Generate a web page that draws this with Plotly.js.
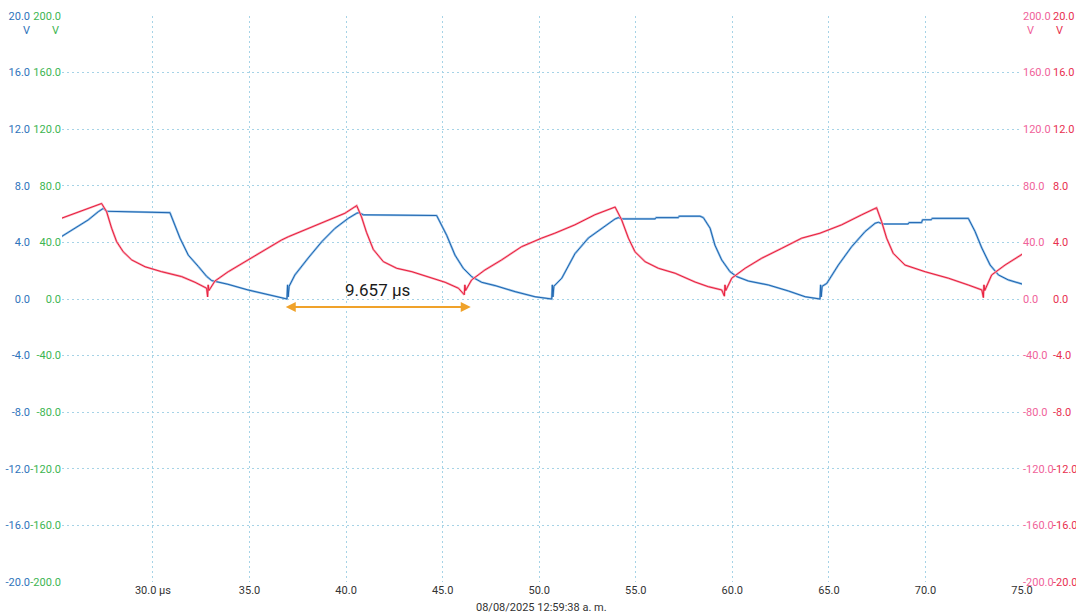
<!DOCTYPE html>
<html>
<head>
<meta charset="utf-8">
<script src="https://cdn.plot.ly/plotly-3.0.1.min.js"></script>
<style>
  html, body { margin: 0; padding: 0; background: #ffffff; }
  #chart { width: 1076px; height: 613px; }
</style>
</head>
<body>
<div id="chart"></div>
<script>
// Time base (µs) and the two captured channels (V)
const timeA = [25.25, 25.96, 26.65, 27.17, 27.43, 27.6, 30.85, 30.88, 31.40, 31.83, 32.35, 32.78, 33.04, 33.88, 34.92, 35.96, 36.84, 36.94, 36.97, 37.0, 37.05,
  37.35, 38.04, 38.74, 39.43, 40.11, 40.55, 40.65, 40.9, 44.65, 44.69, 45.21, 45.64, 46.07, 46.5, 47.02, 47.71, 48.75, 49.78, 50.65, 50.68, 50.71, 50.76,
  51.17, 51.85, 52.54, 53.24, 53.93, 54.1, 54.3, 56.0, 56.05, 57.2, 57.25, 58.33, 58.5, 58.85, 59.1, 59.45, 59.88, 60.23, 60.83, 61.87, 62.9, 63.77, 64.54, 64.57, 64.6, 64.65,
  64.89, 65.49, 66.18, 66.87, 67.39, 67.56, 67.8, 69.1, 69.15, 69.8, 69.85, 70.3, 70.35, 72.22, 72.57, 72.92, 73.35, 73.78, 74.29, 75.05];
const channelA = [4.4, 5.0, 5.59, 6.17, 6.4, 6.2, 6.15, 6.1, 4.3, 3.1, 2.3, 1.6, 1.3, 1.04, 0.64, 0.3, 0.05, 0.0, 1.0, 0.15, 0.9,
  1.7, 2.9, 4.05, 5.0, 5.7, 6.06, 6.1, 5.95, 5.95, 5.9, 4.5, 3.1, 2.17, 1.58, 1.18, 0.95, 0.52, 0.16, 0.0, 1.0, 0.15, 0.9,
  1.47, 3.2, 4.3, 5.0, 5.66, 5.75, 5.66, 5.66, 5.75, 5.75, 5.85, 5.85, 5.75, 5.0, 3.8, 2.76, 1.93, 1.58, 1.27, 0.99, 0.57, 0.16, 0.0, 1.0, 0.15, 0.9,
  1.1, 2.4, 3.7, 4.76, 5.35, 5.42, 5.3, 5.3, 5.4, 5.4, 5.6, 5.6, 5.7, 5.7, 4.77, 3.6, 2.4, 1.7, 1.35, 1.04];

const timeB = [25.25, 25.96, 26.65, 27.34, 27.6, 27.86, 28.12, 28.46, 28.9, 29.59, 30.45, 31.49, 32.18, 32.78, 32.83, 32.86, 32.9,
  33.21, 33.9, 34.76, 35.63, 36.66, 37.01, 38.04, 39.08, 39.94, 40.55, 40.8, 41.06, 41.41, 41.93, 42.62, 43.41, 44.27, 45.13, 45.82, 46.12, 46.15, 46.19,
  46.5, 47.19, 48.05, 49.09, 50.12, 50.81, 51.85, 52.88, 53.93, 54.27, 54.62, 54.96, 55.48, 56.17, 57.04, 58.07, 58.76, 59.45, 59.59, 59.62, 59.66,
  59.97, 60.66, 61.52, 62.56, 63.59, 64.54, 65.66, 66.7, 67.39, 67.47, 67.73, 67.99, 68.33, 68.94, 69.98, 71.19, 72.22, 72.92, 73.0, 73.03, 73.07,
  73.43, 74.12, 74.9, 75.05];
const channelB = [5.7, 6.06, 6.4, 6.75, 6.17, 5.0, 4.05, 3.34, 2.76, 2.28, 1.93, 1.58, 1.18, 0.76, 0.15, 1.0, 0.6,
  1.27, 1.93, 2.64, 3.34, 4.17, 4.4, 5.0, 5.59, 6.06, 6.6, 5.8, 4.7, 3.5, 2.64, 2.17, 1.93, 1.58, 1.18, 0.76, 0.3, 1.0, 0.6,
  1.35, 2.05, 2.76, 3.7, 4.3, 4.65, 5.24, 5.95, 6.5, 5.59, 4.3, 3.34, 2.64, 2.17, 1.82, 1.2, 0.87, 0.64, 0.2, 1.0, 0.6,
  1.47, 2.17, 2.88, 3.58, 4.3, 4.65, 5.24, 5.95, 6.37, 6.45, 5.47, 4.3, 3.23, 2.4, 1.93, 1.47, 0.99, 0.64, 0.1, 1.0, 0.6,
  1.7, 2.4, 3.1, 3.2];

// Axis ticks
const timeTicks = [30, 35, 40, 45, 50, 55, 60, 65, 70, 75];
const timeTickText = ['30.0 µs', '35.0', '40.0', '45.0', '50.0', '55.0', '60.0', '65.0', '70.0', '75.0'];
const voltTicks = [-20, -16, -12, -8, -4, 0, 4, 8, 12, 16, 20];
const scale20Text = ['-20.0', '-16.0', '-12.0', '-8.0', '-4.0', '0.0', '4.0', '8.0', '12.0', '16.0', '20.0'];
const scale200Text = ['-200.0', '-160.0', '-120.0', '-80.0', '-40.0', '0.0', '40.0', '80.0', '120.0', '160.0', '200.0'];

// Cursor measurement
const cursorStart = 36.8;
const cursorDelta = 9.657;
const cursorLevel = -0.57;
const timestamp = '08/08/2025 12:59:38 a. m.';

const FONT = 'Roboto, "Noto Sans", sans-serif';
const C_BLUE = '#2f74bb', C_GREEN = '#3db552', C_PINK = '#f0629a', C_RED = '#e8304f';
const GRID = '#a6d3e6';

// Each channel is drawn as a pale halo under a thin core line
const traces = [
  { x: timeA, y: channelA, mode: 'lines', line: { color: '#94c0e8', width: 2.2 }, hoverinfo: 'skip' },
  { x: timeA, y: channelA, mode: 'lines', line: { color: '#1f66b0', width: 1 } },
  { x: timeB, y: channelB, mode: 'lines', line: { color: '#f7a3b3', width: 2.2 }, hoverinfo: 'skip' },
  { x: timeB, y: channelB, mode: 'lines', line: { color: '#e81e3c', width: 1 } }
];
// Transparent copies so the extra scale axes get drawn
['y2', 'y3', 'y4'].forEach(function (ax) {
  traces.push({ x: timeA, y: channelA, yaxis: ax, mode: 'lines', opacity: 0,
    line: { width: 0 }, hoverinfo: 'skip' });
});

const yBase = {
  range: [-20, 20], tickvals: voltTicks, ticks: '', showline: false, zeroline: false,
  fixedrange: true
};

function unitLabel(px, color) {
  return { xref: 'paper', yref: 'paper', x: px / 1076, y: 1.0, xanchor: 'center', yanchor: 'middle',
    yshift: -14, text: 'V', showarrow: false, font: { color: color, size: 11 } };
}

const layout = {
  width: 1076, height: 613,
  margin: { l: 0, r: 0, t: 16, b: 31 },
  paper_bgcolor: '#ffffff', plot_bgcolor: '#ffffff',
  showlegend: false,
  font: { family: FONT, size: 11, color: '#333333' },
  xaxis: {
    domain: [62 / 1076, 1022 / 1076],
    range: [25.29, 75],
    tickvals: timeTicks, ticktext: timeTickText,
    ticks: '', showline: false, zeroline: false,
    showgrid: true, gridcolor: GRID, griddash: '2px,3px', gridwidth: 1,
    tickfont: { family: FONT, size: 11, color: '#333333' }
  },
  yaxis: Object.assign({}, yBase, {
    ticktext: scale200Text, side: 'left', anchor: 'x',
    showgrid: true, gridcolor: GRID, griddash: '2px,3px', gridwidth: 1,
    tickfont: { family: FONT, size: 11, color: C_GREEN }
  }),
  yaxis2: Object.assign({}, yBase, {
    ticktext: scale20Text, overlaying: 'y', side: 'left', anchor: 'free', position: 30 / 1076,
    showgrid: false, tickfont: { family: FONT, size: 11, color: C_BLUE }
  }),
  yaxis3: Object.assign({}, yBase, {
    ticktext: scale200Text, overlaying: 'y', side: 'right', anchor: 'x',
    showgrid: false, tickfont: { family: FONT, size: 11, color: C_PINK }
  }),
  yaxis4: Object.assign({}, yBase, {
    ticktext: scale20Text, overlaying: 'y', side: 'right', anchor: 'free', position: 1052 / 1076,
    showgrid: false, tickfont: { family: FONT, size: 11, color: C_RED }
  }),
  annotations: [
    // unit labels under the top ticks
    unitLabel(26, C_BLUE),
    unitLabel(55, C_GREEN),
    unitLabel(1030, C_PINK),
    unitLabel(1059, C_RED),
    // acquisition timestamp
    { xref: 'paper', yref: 'paper', x: 541 / 1076, y: 0, xanchor: 'center', yanchor: 'middle', yshift: -25,
      text: timestamp, showarrow: false, font: { color: '#333333', size: 11 } },
    // cursor span arrow
    { xref: 'x', yref: 'y', axref: 'x', ayref: 'y',
      x: cursorStart + cursorDelta, y: cursorLevel, ax: cursorStart, ay: cursorLevel,
      text: '', showarrow: true, arrowside: 'end+start', arrowhead: 2, startarrowhead: 2,
      arrowsize: 1, startarrowsize: 1, arrowwidth: 2, arrowcolor: '#f0a22a' },
    { xref: 'x', yref: 'y', x: cursorStart + cursorDelta / 2, y: cursorLevel, yshift: 17,
      text: cursorDelta.toFixed(3) + ' µs', showarrow: false, font: { color: '#1a1a1a', size: 17 } }
  ]
};

Plotly.newPlot('chart', traces, layout, { displayModeBar: false, staticPlot: true });
</script>
</body>
</html>
